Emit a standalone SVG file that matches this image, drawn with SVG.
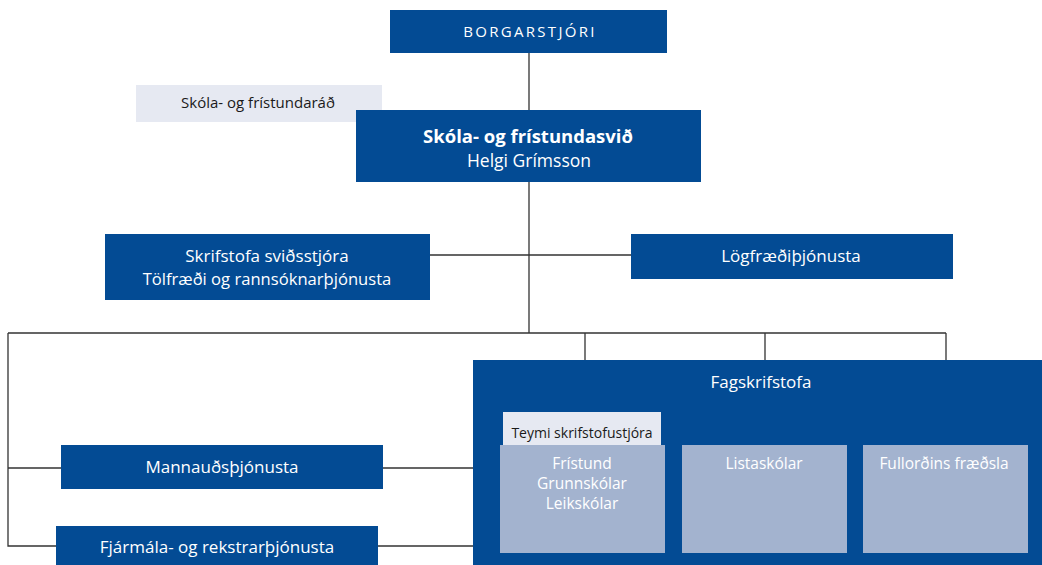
<svg xmlns="http://www.w3.org/2000/svg" width="1042" height="565" viewBox="0 0 1042 565">
<style>
.b{fill:#034b94}
.l{fill:#e6e9f2}
.i{fill:#a3b3cf}
text{font-family:"Open Sans","Liberation Sans",sans-serif;text-anchor:middle}
.w{fill:#ffffff;font-size:17px}
.d{fill:#1a1a1a;font-size:14px}
.s{fill:#ffffff;font-size:15.5px}
.c{fill:none;stroke:#333333;stroke-width:1.3}
</style>
<rect width="1042" height="565" fill="#ffffff"/>
<g id="connectors">
<path class="c" d="M529 53V333M430 255H631M8 333H946M585 333V360M765 333V360M946 333V360M8 333V546H56M8 468H61M383 468H473M378 546H473"/>
</g>
<g id="borgarstjori">
<rect class="b" x="390" y="10" width="277" height="43"/>
<text class="w" x="530" y="37" style="font-size:15px;letter-spacing:2.3px">BORGARSTJÓRI</text>
</g>
<g id="rad">
<rect class="l" x="136" y="85" width="246" height="37"/>
<text class="d" x="258" y="108" style="font-size:15px">Skóla- og frístundaráð</text>
</g>
<g id="svid">
<rect class="b" x="356" y="110" width="345" height="72"/>
<text class="w" x="528" y="143" style="font-size:18.5px;font-weight:bold">Skóla- og frístundasvið</text>
<text class="w" x="529" y="167" style="font-size:17.5px">Helgi Grímsson</text>
</g>
<g id="skrifstofa">
<rect class="b" x="105" y="234" width="325" height="66"/>
<text class="w" x="267" y="262">Skrifstofa sviðsstjóra</text>
<text class="w" x="267" y="285" style="font-size:16.6px">Tölfræði og rannsóknarþjónusta</text>
</g>
<g id="logfraedi">
<rect class="b" x="631" y="234" width="322" height="45"/>
<text class="w" x="791" y="262">Lögfræðiþjónusta</text>
</g>
<g id="mannaud">
<rect class="b" x="61" y="445" width="322" height="44"/>
<text class="w" x="222" y="473">Mannauðsþjónusta</text>
</g>
<g id="fjarmala">
<rect class="b" x="56" y="526" width="322" height="45"/>
<text class="w" x="217" y="553">Fjármála- og rekstrarþjónusta</text>
</g>
<g id="fagskrifstofa">
<rect class="b" x="473" y="360" width="575" height="210"/>
<text class="w" x="761" y="388">Fagskrifstofa</text>
</g>
<g id="teymi">
<rect class="l" x="503" y="412" width="158" height="34"/>
<text class="d" x="582" y="438">Teymi skrifstofustjóra</text>
</g>
<g id="fristund">
<rect class="i" x="500" y="445" width="165" height="108"/>
<text class="s" x="582" y="469">Frístund</text>
<text class="s" x="582" y="489">Grunnskólar</text>
<text class="s" x="582" y="509">Leikskólar</text>
</g>
<g id="listaskolar">
<rect class="i" x="682" y="445" width="165" height="108"/>
<text class="s" x="764" y="469">Listaskólar</text>
</g>
<g id="fullordins">
<rect class="i" x="863" y="445" width="165" height="108"/>
<text class="s" x="944" y="469">Fullorðins fræðsla</text>
</g>
</svg>
